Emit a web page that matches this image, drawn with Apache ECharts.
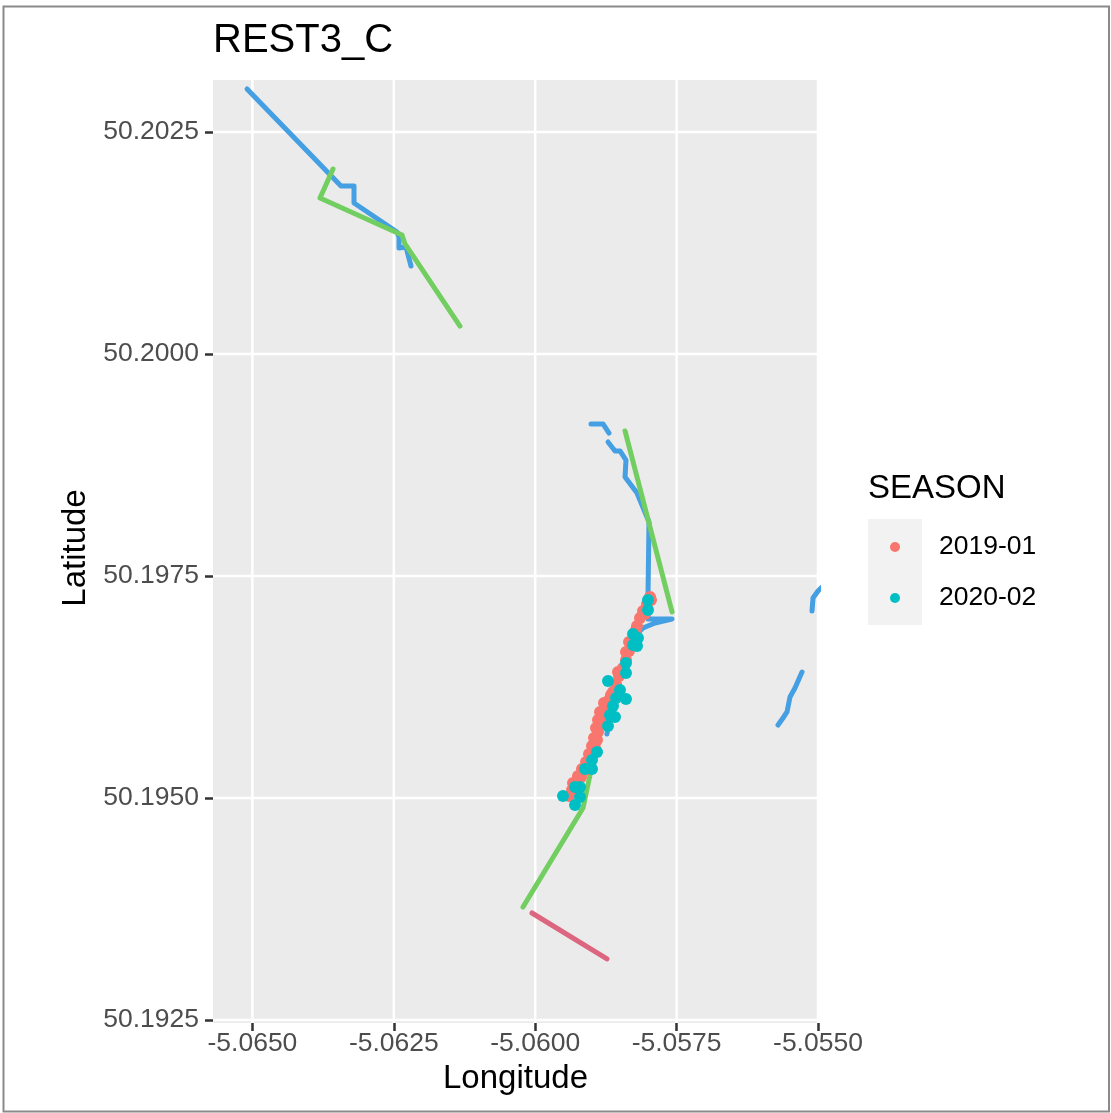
<!DOCTYPE html>
<html>
<head>
<meta charset="utf-8">
<script src="https://cdn.jsdelivr.net/npm/echarts@6/dist/echarts.min.js"></script>
<style>
  html, body { margin: 0; padding: 0; background: #fff; }
  #chart { width: 1111px; height: 1113px; }
</style>
</head>
<body>
<div id="chart"></div>
<script>
// Axis ranges and ticks
const lonRange = [-5.065697, -5.0550];
const latRange = [50.1924662, 50.2030856];
const xTicks = [-5.0650, -5.0625, -5.0600, -5.0575, -5.0550];
const yTicks = [50.1925, 50.1950, 50.1975, 50.2000, 50.2025];

// Legend categories
const seasons = ['2019-01', '2020-02'];

// Observations, season 2019-01 [lon, lat]
const pts2019 = [
  [-5.057970, 50.197264], [-5.058023, 50.197185], [-5.058094, 50.197106], [-5.058147, 50.197027],
  [-5.058200, 50.196937], [-5.058253, 50.196847], [-5.058289, 50.196757], [-5.058342, 50.196655],
  [-5.058395, 50.196554], [-5.058448, 50.196464], [-5.058518, 50.196374], [-5.058571, 50.196284],
  [-5.058625, 50.196194], [-5.058695, 50.196104], [-5.058766, 50.196014], [-5.058819, 50.195923],
  [-5.058854, 50.195833], [-5.058890, 50.195743], [-5.058907, 50.195653], [-5.058943, 50.195563],
  [-5.058996, 50.195473], [-5.059049, 50.195394], [-5.059120, 50.195315], [-5.059190, 50.195236],
  [-5.059279, 50.195158], [-5.059349, 50.195090], [-5.059402, 50.195023], [-5.058342, 50.196757],
  [-5.058395, 50.196644], [-5.058536, 50.196419], [-5.058660, 50.196160], [-5.058784, 50.196070],
  [-5.058854, 50.195968], [-5.058890, 50.195878], [-5.058925, 50.195788], [-5.058960, 50.195676],
  [-5.058996, 50.195586], [-5.059049, 50.195496], [-5.059102, 50.195405], [-5.059173, 50.195327],
  [-5.059243, 50.195248], [-5.059332, 50.195169], [-5.057953, 50.197230], [-5.058059, 50.197072],
  [-5.058218, 50.196892]
];

// Observations, season 2020-02 [lon, lat]
const pts2020 = [
  [-5.058006, 50.197230], [-5.058006, 50.197117], [-5.058271, 50.196847], [-5.058183, 50.196802],
  [-5.058271, 50.196723], [-5.058200, 50.196712], [-5.058395, 50.196520], [-5.058395, 50.196408],
  [-5.058713, 50.196318], [-5.058501, 50.196216], [-5.058571, 50.196126], [-5.058395, 50.196115],
  [-5.058625, 50.196036], [-5.058678, 50.195935], [-5.058589, 50.195912], [-5.058713, 50.195811],
  [-5.058907, 50.195518], [-5.058996, 50.195428], [-5.059120, 50.195327], [-5.058996, 50.195327],
  [-5.059296, 50.195124], [-5.059208, 50.195124], [-5.059509, 50.195023], [-5.059208, 50.195011],
  [-5.059296, 50.194921]
];

// Vessel tracks [lon, lat]
const trackBlueNW = [
  [-5.065095, 50.202984], [-5.063434, 50.201892], [-5.063204, 50.201892], [-5.063204, 50.201700],
  [-5.062443, 50.201374], [-5.062408, 50.201318], [-5.062408, 50.201194], [-5.062284, 50.201205],
  [-5.062196, 50.200991]
];
const trackGreenNW = [
  [-5.063575, 50.202083], [-5.063805, 50.201757], [-5.062355, 50.201340], [-5.062302, 50.201239],
  [-5.061330, 50.200315]
];
const trackBlueMidA = [
  [-5.059013, 50.199212], [-5.058801, 50.199212], [-5.058695, 50.199110]
];
const trackBlueMidB = [
  [-5.058713, 50.199009], [-5.058589, 50.198908], [-5.058501, 50.198908], [-5.058395, 50.198806],
  [-5.058412, 50.198615], [-5.058200, 50.198435], [-5.057988, 50.198108], [-5.058006, 50.197264],
  [-5.058006, 50.197016], [-5.057581, 50.197016], [-5.057882, 50.196971], [-5.058094, 50.196914],
  [-5.058271, 50.196802], [-5.058412, 50.196554], [-5.058554, 50.196273], [-5.058678, 50.195969],
  [-5.058731, 50.195721]
];
const trackGreenMid = [
  [-5.058412, 50.199133], [-5.057581, 50.197095]
];
const trackGreenSouth = [
  [-5.059031, 50.195259], [-5.059155, 50.194887], [-5.060216, 50.193772]
];
const trackRedSouth = [
  [-5.060057, 50.193705], [-5.058731, 50.193187]
];
const trackBlueEastA = [
  [-5.054929, 50.197376], [-5.055000, 50.197331], [-5.055088, 50.197252], [-5.055106, 50.197106]
];
const trackBlueEastB = [
  [-5.055283, 50.196419], [-5.055407, 50.196239], [-5.055495, 50.196137], [-5.055548, 50.195969],
  [-5.055619, 50.195901], [-5.055707, 50.195822]
];

const FONT = '"Liberation Sans", Arial, Helvetica, sans-serif';
const BLUE = '#449fe3';
const GREEN = '#72ce60';
const CRIMSON = '#dc6680';

function track(data, color) {
  return {
    type: 'line',
    data: data,
    showSymbol: false,
    symbol: 'none',
    lineStyle: { color: color, width: 5, cap: 'round', join: 'round' },
    itemStyle: { color: color },
    emphasis: { disabled: true },
    z: 3,
    silent: true,
    clip: true
  };
}

// white panel grid line through one tick value
function gridLine(points) {
  return {
    type: 'line',
    data: points,
    showSymbol: false,
    symbol: 'none',
    lineStyle: { color: '#ffffff', width: 2.5 },
    emphasis: { disabled: true },
    silent: true,
    z: 1
  };
}

const gridSeries = xTicks.map(v => gridLine([[v, latRange[0]], [v, latRange[1]]]))
  .concat(yTicks.map(v => gridLine([[lonRange[0], v], [lonRange[1], v]])));

const chart = echarts.init(document.getElementById('chart'), null, { renderer: 'canvas' });

chart.setOption({
  animation: false,
  backgroundColor: '#ffffff',
  textStyle: { fontFamily: FONT },
  title: {
    text: 'REST3_C',
    left: 213,
    top: 21,
    padding: 0,
    textStyle: { fontFamily: FONT, fontSize: 40, fontWeight: 'normal', color: '#000' }
  },
  grid: {
    left: 213,
    right: 293,
    top: 80,
    bottom: 90,
    show: true,
    backgroundColor: '#ebebeb',
    borderWidth: 0
  },
  xAxis: {
    type: 'value',
    min: lonRange[0],
    max: lonRange[1],
    axisLine: { show: false },
    splitLine: { show: false },
    axisTick: {
      show: true, customValues: xTicks, length: 8,
      lineStyle: { color: '#333333', width: 2.5 }
    },
    axisLabel: {
      customValues: xTicks, margin: 7,
      fontFamily: FONT, fontSize: 26.5, color: '#4d4d4d',
      formatter: v => v.toFixed(4)
    }
  },
  yAxis: {
    type: 'value',
    min: latRange[0],
    max: latRange[1],
    axisLine: { show: false },
    splitLine: { show: false },
    axisTick: {
      show: true, customValues: yTicks, length: 8,
      lineStyle: { color: '#333333', width: 2.5 }
    },
    axisLabel: {
      customValues: yTicks, margin: 14,
      fontFamily: FONT, fontSize: 26.5, color: '#4d4d4d',
      formatter: v => v.toFixed(4)
    }
  },
  legend: {
    data: seasons,
    orient: 'vertical',
    left: 890,
    top: 532,
    padding: 0,
    itemWidth: 10,
    itemHeight: 10,
    itemGap: 21,
    icon: 'circle',
    selectedMode: false,
    textStyle: {
      fontFamily: FONT, fontSize: 26.5, color: '#000',
      lineHeight: 30, padding: [0, 0, 0, 34]
    }
  },
  graphic: [
    {
      type: 'rect', z: -10, silent: true,
      shape: { x: 3.5, y: 6.5, width: 1105.5, height: 1105 },
      style: { fill: null, stroke: '#8a8a8a', lineWidth: 2 }
    },
    {
      type: 'rect', z: 0, silent: true,
      shape: { x: 868, y: 519, width: 54, height: 106 },
      style: { fill: '#f2f2f2' }
    },
    {
      type: 'text', silent: true, x: 868, y: 489,
      style: { text: 'SEASON', font: '33px ' + FONT, fill: '#000', textAlign: 'left', textVerticalAlign: 'middle' }
    },
    {
      type: 'text', silent: true, x: 515.5, y: 1079,
      style: { text: 'Longitude', font: '33px ' + FONT, fill: '#000', textAlign: 'center', textVerticalAlign: 'middle' }
    },
    {
      type: 'text', silent: true, x: 76, y: 548, rotation: Math.PI / 2,
      style: { text: 'Latitude', font: '33px ' + FONT, fill: '#000', textAlign: 'center', textVerticalAlign: 'middle' }
    }
  ],
  series: gridSeries.concat([
    track(trackBlueNW, BLUE),
    track(trackGreenNW, GREEN),
    track(trackBlueMidA, BLUE),
    track(trackBlueMidB, BLUE),
    track(trackGreenMid, GREEN),
    track(trackGreenSouth, GREEN),
    track(trackRedSouth, CRIMSON),
    track(trackBlueEastA, BLUE),
    track(trackBlueEastB, BLUE),
    {
      name: seasons[0],
      type: 'scatter',
      data: pts2019,
      symbol: 'circle',
      symbolSize: 12,
      itemStyle: { color: '#f8766d', opacity: 1 },
      emphasis: { disabled: true },
      z: 4
    },
    {
      name: seasons[1],
      type: 'scatter',
      data: pts2020,
      symbol: 'circle',
      symbolSize: 12,
      itemStyle: { color: '#00bfc4', opacity: 1 },
      emphasis: { disabled: true },
      z: 5
    }
  ])
});
</script>
</body>
</html>
